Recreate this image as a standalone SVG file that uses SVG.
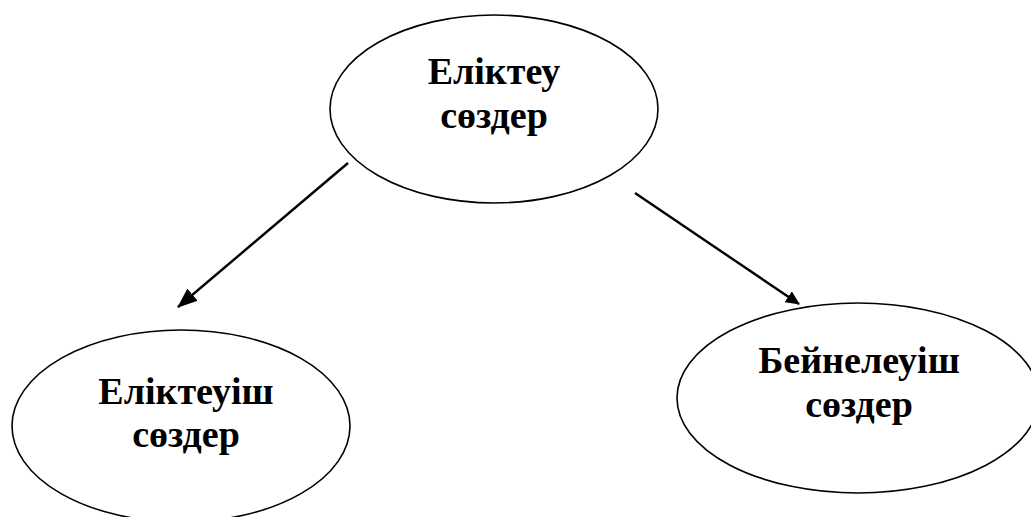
<svg xmlns="http://www.w3.org/2000/svg" width="1031" height="517" viewBox="0 0 1031 517">
<style>
.node ellipse{fill:#fff;stroke:#000;stroke-width:1.6}
.node text{font-family:"Liberation Serif","Times New Roman",serif;font-weight:bold;font-size:38px;fill:#000;text-anchor:middle}
.edge{stroke:#000;stroke-width:2.4;fill:none}
</style>
<defs>
<marker id="ah" markerUnits="userSpaceOnUse" markerWidth="22" markerHeight="16" refX="19" refY="8" orient="auto">
<path d="M0,0 L20,8 L0,16 Z" fill="#000"/>
</marker>
<marker id="ah2" markerUnits="userSpaceOnUse" markerWidth="16" markerHeight="13" refX="13" refY="6.5" orient="auto">
<path d="M0,0 L14,6.5 L0,13 Z" fill="#000"/>
</marker>
</defs>
<g id="n-top" class="node">
<ellipse cx="494" cy="109" rx="164" ry="94"/>
<text x="494" y="84">Еліктеу</text>
<text x="494" y="128">сөздер</text>
</g>
<g id="n-left" class="node">
<ellipse cx="181" cy="426" rx="169" ry="96"/>
<text x="186" y="404">Еліктеуіш</text>
<text x="186" y="447">сөздер</text>
</g>
<g id="n-right" class="node">
<ellipse cx="858" cy="398" rx="181" ry="95"/>
<text x="859" y="373">Бейнелеуіш</text>
<text x="859" y="417">сөздер</text>
</g>
<g id="connectors">
<line class="edge" x1="348" y1="163" x2="178" y2="307" marker-end="url(#ah)"/>
<line class="edge" x1="635" y1="193" x2="799" y2="304" marker-end="url(#ah2)"/>
</g>
</svg>
